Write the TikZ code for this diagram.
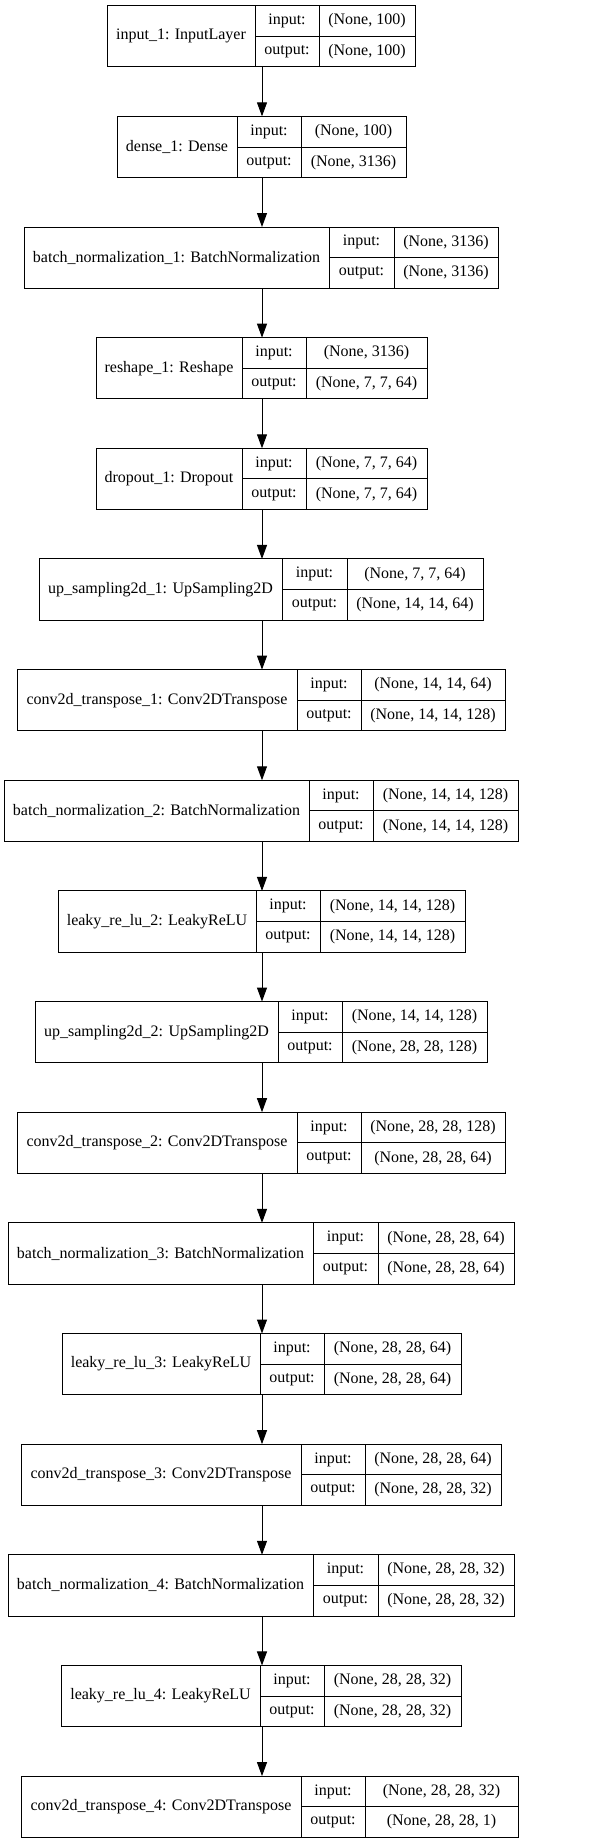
\documentclass[tikz,border=0pt]{standalone}
\usepackage{fontspec}
\setmainfont{Liberation Serif}
\usetikzlibrary{arrows.meta, positioning}

% one record: name, top, left, split1, split2, right, label, input, output
\newcommand{\layer}[9]{%
  \node[cell, minimum width={#4pt-#3pt}, minimum height=61.3pt] (#1) at (#3,#2) {#7};
  \node[cell, minimum width={#5pt-#4pt}] (#1-ik) at (#1.north east) {input:};
  \node[cell, minimum width={#5pt-#4pt}] (#1-ok) at (#1-ik.south west) {output:};
  \node[cell, minimum width={#6pt-#5pt}] (#1-iv) at (#1-ik.north east) {#8};
  \node[cell, minimum width={#6pt-#5pt}] (#1-ov) at (#1-iv.south west) {#9};
}

\begin{document}
\begin{tikzpicture}[
  x=1pt, y=-1pt, font=\fontsize{16}{19}\selectfont,
  cell/.style={draw, line width=1pt, anchor=north west, inner sep=0pt,
               outer sep=0pt, minimum height=30.65pt, align=center},
  arr/.style={line width=1pt, -{Triangle[length=14pt, width=10pt]}}]
\fill[white] (0,0) rectangle (608,1844);
\useasboundingbox (0,0) rectangle (608,1844);
\coordinate (axis) at (262,0);
\layer{input1}{5.7}{107}{255}{319}{415}{input\_1: InputLayer}{(None, 100)}{(None, 100)}
\layer{dense1}{116.35}{117}{237}{301}{406}{dense\_1: Dense}{(None, 100)}{(None, 3136)}
\layer{bn1}{227}{24}{329}{394}{498}{batch\_normalization\_1: BatchNormalization}{(None, 3136)}{(None, 3136)}
\layer{reshape1}{337.65}{96}{242}{306}{427}{reshape\_1: Reshape}{(None, 3136)}{(None, 7, 7, 64)}
\layer{dropout1}{448.3}{96}{242}{306}{427}{dropout\_1: Dropout}{(None, 7, 7, 64)}{(None, 7, 7, 64)}
\layer{up1}{558.95}{39}{282}{347}{483}{up\_sampling2d\_1: UpSampling2D}{(None, 7, 7, 64)}{(None, 14, 14, 64)}
\layer{deconv1}{669.6}{17}{297}{361}{505}{conv2d\_transpose\_1: Conv2DTranspose}{(None, 14, 14, 64)}{(None, 14, 14, 128)}
\layer{bn2}{780.25}{4}{309}{373}{518}{batch\_normalization\_2: BatchNormalization}{(None, 14, 14, 128)}{(None, 14, 14, 128)}
\layer{leaky2}{890.9}{58}{256}{320}{465}{leaky\_re\_lu\_2: LeakyReLU}{(None, 14, 14, 128)}{(None, 14, 14, 128)}
\layer{up2}{1001.55}{35}{278}{342}{487}{up\_sampling2d\_2: UpSampling2D}{(None, 14, 14, 128)}{(None, 28, 28, 128)}
\layer{deconv2}{1112.2}{17}{297}{361}{505}{conv2d\_transpose\_2: Conv2DTranspose}{(None, 28, 28, 128)}{(None, 28, 28, 64)}
\layer{bn3}{1222.85}{8}{313}{378}{514}{batch\_normalization\_3: BatchNormalization}{(None, 28, 28, 64)}{(None, 28, 28, 64)}
\layer{leaky3}{1333.5}{62}{260}{324}{461}{leaky\_re\_lu\_3: LeakyReLU}{(None, 28, 28, 64)}{(None, 28, 28, 64)}
\layer{deconv3}{1444.15}{21}{301}{365}{501}{conv2d\_transpose\_3: Conv2DTranspose}{(None, 28, 28, 64)}{(None, 28, 28, 32)}
\layer{bn4}{1554.8}{8}{313}{378}{514}{batch\_normalization\_4: BatchNormalization}{(None, 28, 28, 32)}{(None, 28, 28, 32)}
\layer{leaky4}{1665.45}{61}{260}{324}{461}{leaky\_re\_lu\_4: LeakyReLU}{(None, 28, 28, 32)}{(None, 28, 28, 32)}
\layer{deconv4}{1776.1}{21}{301}{365}{518}{conv2d\_transpose\_4: Conv2DTranspose}{(None, 28, 28, 32)}{(None, 28, 28, 1)}
\draw[arr] (input1.south -| axis) -- (dense1.north -| axis);
\draw[arr] (dense1.south -| axis) -- (bn1.north -| axis);
\draw[arr] (bn1.south -| axis) -- (reshape1.north -| axis);
\draw[arr] (reshape1.south -| axis) -- (dropout1.north -| axis);
\draw[arr] (dropout1.south -| axis) -- (up1.north -| axis);
\draw[arr] (up1.south -| axis) -- (deconv1.north -| axis);
\draw[arr] (deconv1.south -| axis) -- (bn2.north -| axis);
\draw[arr] (bn2.south -| axis) -- (leaky2.north -| axis);
\draw[arr] (leaky2.south -| axis) -- (up2.north -| axis);
\draw[arr] (up2.south -| axis) -- (deconv2.north -| axis);
\draw[arr] (deconv2.south -| axis) -- (bn3.north -| axis);
\draw[arr] (bn3.south -| axis) -- (leaky3.north -| axis);
\draw[arr] (leaky3.south -| axis) -- (deconv3.north -| axis);
\draw[arr] (deconv3.south -| axis) -- (bn4.north -| axis);
\draw[arr] (bn4.south -| axis) -- (leaky4.north -| axis);
\draw[arr] (leaky4.south -| axis) -- (deconv4.north -| axis);
\end{tikzpicture}
\end{document}
